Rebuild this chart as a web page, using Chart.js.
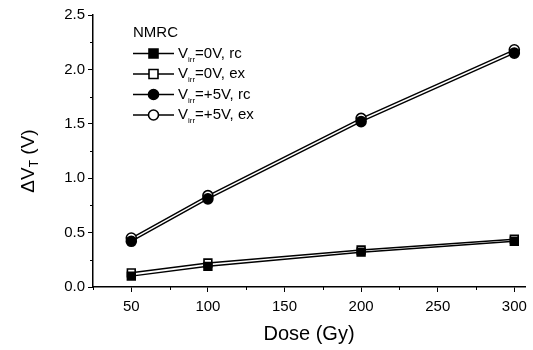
<!DOCTYPE html>
<html>
<head>
<meta charset="utf-8">
<script src="https://cdn.jsdelivr.net/npm/chart.js@4.4.1/dist/chart.umd.min.js"></script>
<style>
  html, body { margin: 0; padding: 0; background: #fff; }
  #wrap { width: 533px; height: 350px; position: relative; }
</style>
</head>
<body>
<div id="wrap"><canvas id="c"></canvas></div>
<script>
// dose values (Gy)
const doses = [50, 100, 200, 300];
// threshold voltage shift, V
const v0rc = [0.10, 0.19, 0.32, 0.42];
const v0ex = [0.13, 0.22, 0.34, 0.44];
const v5rc = [0.42, 0.81, 1.52, 2.15];
const v5ex = [0.45, 0.84, 1.55, 2.18];

const seriesNames = ["=0V, rc", "=0V, ex", "=+5V, rc", "=+5V, ex"];
const xTicks = [50, 100, 150, 200, 250, 300];
const yTicks = [0, 0.5, 1, 1.5, 2, 2.5];

const FONT = "'Liberation Sans', Arial, sans-serif";

function pts(vals) {
  return doses.map((d, i) => ({ x: d, y: vals[i] }));
}

function mkSet(name, vals, shape, filled) {
  return {
    label: name,
    data: pts(vals),
    borderColor: "#000",
    borderWidth: 1.5,
    pointStyle: shape,
    pointRadius: shape === "rect" ? 5.5 : 5,
    pointBorderWidth: 1.6,
    pointBorderColor: "#000",
    pointBackgroundColor: filled ? "#000" : "#fff",
    tension: 0,
  };
}

// minor ticks + custom legend + y title
const extras = {
  id: "extras",
  afterDraw(chart) {
    const { ctx, chartArea, scales } = chart;
    const x = scales.x, y = scales.y;
    ctx.save();
    ctx.strokeStyle = "#000";
    ctx.lineWidth = 1;
    // minor ticks, x
    for (let v = 25; v <= 300; v += 50) {
      const px = Math.round(x.getPixelForValue(v)) + 0.5;
      ctx.beginPath();
      ctx.moveTo(px, chartArea.bottom);
      ctx.lineTo(px, chartArea.bottom + 3);
      ctx.stroke();
    }
    // minor ticks, y
    for (let v = 0.25; v < 2.5; v += 0.5) {
      const py = Math.round(y.getPixelForValue(v)) + 0.5;
      ctx.beginPath();
      ctx.moveTo(chartArea.left, py);
      ctx.lineTo(chartArea.left - 3, py);
      ctx.stroke();
    }

    // y axis title: ΔV_T (V)
    ctx.fillStyle = "#000";
    ctx.translate(34, 161);
    ctx.rotate(-Math.PI / 2);
    ctx.textBaseline = "alphabetic";
    ctx.font = "19px " + FONT;
    const p1 = "\u0394V";
    const w1 = ctx.measureText(p1).width;
    ctx.font = "12px " + FONT;
    const wT = ctx.measureText("T").width;
    ctx.font = "19px " + FONT;
    const p2 = " (V)";
    const w2 = ctx.measureText(p2).width;
    let sx = -(w1 + wT + w2) / 2;
    ctx.fillText(p1, sx, 0);
    sx += w1;
    ctx.font = "12px " + FONT;
    ctx.fillText("T", sx, 4);
    sx += wT;
    ctx.font = "19px " + FONT;
    ctx.fillText(p2, sx, 0);
    ctx.setTransform(1, 0, 0, 1, 0, 0);

    // legend
    const lx = 133, ly0 = 33, dy = 20.5;
    ctx.font = "15px " + FONT;
    ctx.textBaseline = "middle";
    ctx.fillText("NMRC", lx, ly0);
    chart.data.datasets.forEach((ds, i) => {
      const cy = ly0 + dy * (i + 1);
      ctx.strokeStyle = "#000";
      ctx.lineWidth = 1.4;
      ctx.beginPath();
      ctx.moveTo(lx, cy);
      ctx.lineTo(lx + 41, cy);
      ctx.stroke();
      ctx.lineWidth = 1.6;
      ctx.fillStyle = ds.pointBackgroundColor;
      ctx.beginPath();
      if (ds.pointStyle === "rect") {
        ctx.rect(lx + 16, cy - 4.5, 9, 9);
      } else {
        ctx.arc(lx + 20.5, cy, 5, 0, Math.PI * 2);
      }
      ctx.fill();
      ctx.stroke();
      ctx.fillStyle = "#000";
      let tx = lx + 45;
      ctx.font = "15px " + FONT;
      ctx.fillText("V", tx, cy);
      tx += ctx.measureText("V").width;
      ctx.font = "8px " + FONT;
      ctx.fillText("irr", tx, cy + 6);
      tx += ctx.measureText("irr").width;
      ctx.font = "15px " + FONT;
      ctx.fillText(seriesNames[i], tx, cy);
    });
    ctx.restore();
  },
};

new Chart(document.getElementById("c"), {
  type: "line",
  data: {
    datasets: [
      mkSet(seriesNames[0], v0rc, "rect", true),
      mkSet(seriesNames[1], v0ex, "rect", false),
      mkSet(seriesNames[2], v5rc, "circle", true),
      mkSet(seriesNames[3], v5ex, "circle", false),
    ],
  },
  options: {
    responsive: true,
    maintainAspectRatio: false,
    animation: false,
    layout: { padding: { top: 15, right: 0, left: 0, bottom: 0 } },
    plugins: { legend: { display: false }, tooltip: { enabled: false } },
    scales: {
      x: {
        type: "linear",
        min: 25,
        max: 307,
        afterBuildTicks: (s) => { s.ticks = xTicks.map((v) => ({ value: v })); },
        afterFit: (s) => { s.height = 63; },
        border: { color: "#000", width: 1.5 },
        grid: { drawOnChartArea: false, tickLength: 5, color: "#000", lineWidth: 1 },
        ticks: { color: "#000", font: { family: FONT, size: 15 }, padding: 6, maxRotation: 0 },
        title: {
          display: true,
          text: "Dose (Gy)",
          color: "#000",
          font: { family: FONT, size: 20 },
          padding: { top: 4 },
        },
      },
      y: {
        type: "linear",
        min: 0,
        max: 2.5,
        afterBuildTicks: (s) => { s.ticks = yTicks.map((v) => ({ value: v })); },
        afterFit: (s) => { s.width = 93; },
        border: { color: "#000", width: 1.5 },
        grid: { drawOnChartArea: false, tickLength: 5, color: "#000", lineWidth: 1 },
        ticks: {
          color: "#000",
          font: { family: FONT, size: 15 },
          padding: 3,
          callback: (v) => v.toFixed(1),
        },
      },
    },
  },
  plugins: [extras],
});
</script>
</body>
</html>
